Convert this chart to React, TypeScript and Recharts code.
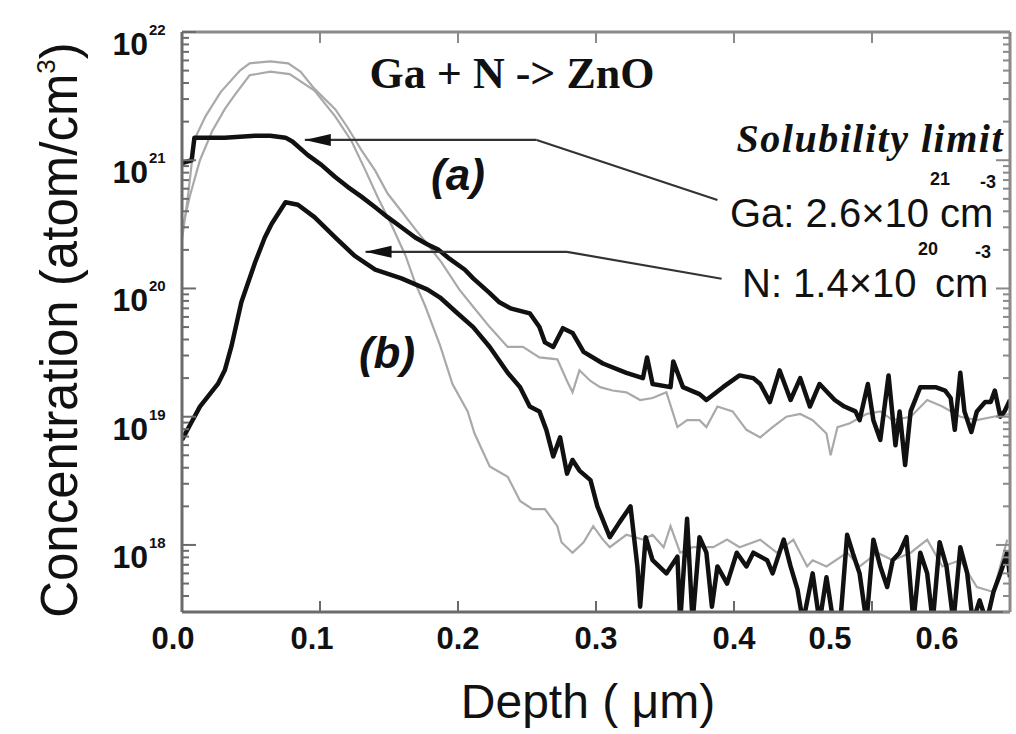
import React from "react";
import { LineChart, Line, XAxis, YAxis, ReferenceLine } from "recharts";

// SIMS depth profiles: [depth (µm), concentration (atom/cm³)]
const gaCodoped: [number, number][] = [
  [0, 9.5e20], [0.007, 1.0e21], [0.009, 1.5e21], [0.031, 1.5e21], [0.053, 1.55e21], [0.064, 1.55e21],
  [0.075, 1.5e21], [0.08, 1.4e21], [0.091, 1.1e21], [0.101, 9.2e20], [0.111, 7.4e20], [0.12, 6.2e20],
  [0.13, 5.2e20], [0.14, 4.3e20], [0.149, 3.6e20], [0.159, 3.0e20], [0.169, 2.5e20], [0.178, 2.2e20],
  [0.186, 2.0e20], [0.194, 1.7e20], [0.205, 1.4e20], [0.211, 1.2e20], [0.223, 9.2e19], [0.23, 7.8e19],
  [0.238, 7.0e19], [0.252, 6.4e19], [0.259, 5.0e19], [0.263, 3.8e19], [0.269, 3.5e19], [0.276, 4.9e19],
  [0.283, 4.5e19], [0.291, 3.2e19], [0.305, 2.6e19], [0.322, 2.2e19], [0.334, 2.0e19], [0.337, 2.9e19],
  [0.341, 1.8e19], [0.354, 1.7e19], [0.356, 2.7e19], [0.363, 1.7e19], [0.375, 1.5e19], [0.38, 1.35e19],
  [0.392, 1.7e19], [0.404, 2.1e19], [0.414, 2.0e19], [0.419, 1.8e19], [0.426, 1.3e19], [0.433, 2.3e19],
  [0.441, 1.35e19], [0.448, 2.0e19], [0.455, 1.2e19], [0.462, 1.8e19], [0.473, 1.35e19], [0.48, 1.2e19],
  [0.488, 1.1e19], [0.491, 9.4e18], [0.497, 1.8e19], [0.501, 9.4e18], [0.506, 6.6e18], [0.512, 2.1e19],
  [0.517, 6.0e18], [0.52, 1.1e19], [0.524, 4.2e18], [0.528, 1.1e19], [0.535, 1.7e19], [0.546, 1.7e19],
  [0.553, 1.6e19], [0.557, 1.4e19], [0.56, 7.9e18], [0.564, 2.2e19], [0.567, 1.1e19], [0.572, 7.6e18],
  [0.576, 1.1e19], [0.582, 1.3e19], [0.586, 1.3e19], [0.589, 1.6e19], [0.593, 1.0e19], [0.596, 1.1e19],
  [0.6, 1.35e19],
];

const nCodoped: [number, number][] = [
  [0, 6.6e18], [0.006, 8.7e18], [0.013, 1.2e19], [0.026, 1.8e19], [0.031, 2.3e19], [0.036, 3.6e19],
  [0.043, 7.8e19], [0.053, 1.6e20], [0.06, 2.5e20], [0.065, 3.2e20], [0.075, 4.7e20], [0.084, 4.5e20],
  [0.096, 3.6e20], [0.111, 2.5e20], [0.125, 1.8e20], [0.14, 1.4e20], [0.159, 1.2e20], [0.178, 9.8e19],
  [0.187, 8.5e19], [0.199, 6.5e19], [0.211, 5.0e19], [0.223, 3.5e19], [0.236, 2.2e19], [0.245, 1.7e19],
  [0.252, 1.2e19], [0.259, 1.1e19], [0.264, 7.9e18], [0.269, 4.9e18], [0.274, 6.9e18], [0.279, 3.6e18],
  [0.283, 4.6e18], [0.288, 3.8e18], [0.296, 3.2e18], [0.301, 2.0e18], [0.31, 1.15e18], [0.317, 1.5e18],
  [0.325, 2.0e18], [0.33, 6.8e17], [0.332, 3.3e17], [0.336, 1.15e18], [0.341, 7.6e17], [0.351, 6.0e17],
  [0.359, 8.1e17], [0.361, 2.5e17], [0.366, 1.6e18], [0.37, 2.5e17], [0.375, 1.15e18], [0.38, 8.7e17],
  [0.384, 3.3e17], [0.388, 6.8e17], [0.395, 5.0e17], [0.402, 8.7e17], [0.409, 6.8e17], [0.414, 8.7e17],
  [0.424, 7.6e17], [0.428, 6.0e17], [0.436, 1.1e18], [0.441, 6.8e17], [0.446, 4.5e17], [0.45, 2.5e17],
  [0.457, 6.0e17], [0.462, 2.5e17], [0.467, 5.6e17], [0.472, 2.5e17], [0.477, 2.5e17], [0.482, 1.2e18],
  [0.486, 8.7e17], [0.491, 6.0e17], [0.496, 2.5e17], [0.501, 1.1e18], [0.506, 6.8e17], [0.511, 4.7e17],
  [0.515, 7.6e17], [0.52, 8.7e17], [0.525, 1.15e18], [0.53, 2.5e17], [0.535, 8.7e17], [0.54, 6.0e17],
  [0.544, 2.5e17], [0.549, 1.05e18], [0.554, 6.8e17], [0.559, 2.5e17], [0.564, 9.6e17], [0.569, 6.0e17],
  [0.573, 2.5e17], [0.578, 3.7e17], [0.583, 2.5e17], [0.588, 4.3e17], [0.593, 6.0e17], [0.598, 8.7e17],
  [0.6, 5.6e17],
];

// single-implant reference profiles (thin grey)
const gaOnly: [number, number][] = [
  [0, 2.4e20], [0.004, 4.9e20], [0.009, 1.45e21], [0.017, 2.2e21], [0.028, 3.4e21], [0.042, 5.0e21],
  [0.049, 5.7e21], [0.064, 5.9e21], [0.077, 5.7e21], [0.086, 4.9e21], [0.096, 3.6e21], [0.111, 2.5e21],
  [0.12, 1.8e21], [0.13, 1.2e21], [0.14, 8.3e20], [0.149, 5.5e20], [0.159, 4.0e20], [0.169, 2.9e20],
  [0.178, 2.2e20], [0.188, 1.6e20], [0.201, 9.8e19], [0.211, 7.2e19], [0.223, 5.0e19], [0.236, 3.5e19],
  [0.247, 3.5e19], [0.259, 2.9e19], [0.272, 2.8e19], [0.279, 1.9e19], [0.283, 1.55e19], [0.288, 2.3e19],
  [0.296, 1.9e19], [0.303, 1.7e19], [0.312, 1.6e19], [0.322, 1.55e19], [0.332, 1.35e19], [0.341, 1.4e19],
  [0.351, 1.55e19], [0.359, 8.3e18], [0.366, 9.4e18], [0.375, 9.4e18], [0.38, 8.3e18], [0.388, 1.2e19],
  [0.399, 1.1e19], [0.409, 7.9e18], [0.419, 6.9e18], [0.428, 8.3e18], [0.438, 1.0e19], [0.448, 1.05e19],
  [0.457, 9.4e18], [0.467, 7.4e18], [0.47, 5.0e18], [0.475, 8.3e18], [0.484, 8.9e18], [0.496, 1.05e19],
  [0.506, 1.1e19], [0.515, 9.4e18], [0.528, 1.0e19], [0.54, 1.35e19], [0.551, 1.2e19], [0.564, 1.0e19],
  [0.576, 9.4e18], [0.588, 1.0e19], [0.6, 1.05e19],
];

const nOnly: [number, number][] = [
  [0, 2.9e20], [0.006, 5.4e20], [0.013, 1.0e21], [0.022, 1.7e21], [0.031, 2.5e21], [0.038, 3.2e21],
  [0.049, 4.6e21], [0.064, 4.9e21], [0.078, 4.7e21], [0.096, 3.5e21], [0.111, 2.2e21], [0.123, 1.4e21],
  [0.133, 8.3e20], [0.142, 5.1e20], [0.152, 3.1e20], [0.162, 1.8e20], [0.169, 1.1e20], [0.176, 7.4e19],
  [0.187, 3.6e19], [0.196, 1.8e19], [0.207, 1.1e19], [0.212, 7.4e18], [0.223, 4.1e18], [0.236, 3.4e18],
  [0.245, 2.2e18], [0.254, 1.9e18], [0.263, 1.9e18], [0.272, 1.4e18], [0.275, 1.05e18], [0.283, 8.7e17],
  [0.291, 1.05e18], [0.298, 1.4e18], [0.305, 1.1e18], [0.31, 9.6e17], [0.322, 1.2e18], [0.334, 1.1e18],
  [0.341, 1.2e18], [0.349, 9.6e17], [0.354, 1.4e18], [0.361, 8.7e17], [0.37, 9.6e17], [0.385, 9.6e17],
  [0.395, 1.1e18], [0.404, 9.6e17], [0.419, 1.1e18], [0.431, 8.7e17], [0.443, 1.1e18], [0.453, 6.8e17],
  [0.457, 7.6e17], [0.467, 6.8e17], [0.482, 8.7e17], [0.491, 6.8e17], [0.504, 8.7e17], [0.515, 7.6e17],
  [0.528, 8.7e17], [0.54, 1.1e18], [0.551, 6.8e17], [0.564, 7.6e17], [0.576, 4.7e17], [0.588, 4.3e17],
  [0.598, 1.1e18],
];

const depthTicks = [0, 0.1, 0.2, 0.3, 0.4, 0.5, 0.6];
const decades = [17, 18, 19, 20, 21, 22];
const concDomain: [number, number] = [3e17, 1e22];

// solubility-limit pointers: [depth, concentration] corners of each leader line
const gaPointer: [number, number][] = [[0.089, 1.44e21], [0.257, 1.44e21], [0.388, 4.9e20]];
const nPointer: [number, number][] = [[0.133, 1.93e20], [0.279, 1.93e20], [0.391, 1.19e20]];

const W = 1016;
const H = 734;
const SANS = '"Liberation Sans", Arial, Helvetica, sans-serif';
const SERIF = '"Liberation Serif", "Times New Roman", serif';
const AXIS = "#6b6b6b";
const FRAME = "#8a8a8a";
const INK = "#111";

const toPoints = (rows: [number, number][]) => rows.map(([depth, conc]) => ({ depth, conc }));

// major decade plus 2..9 minor ticks, kept inside the domain
const concTicks: number[] = [];
decades.forEach((d) => {
  for (let m = 1; m <= 9; m++) {
    const v = m * Math.pow(10, d);
    if (v >= concDomain[0] * 0.999 && v <= concDomain[1] * 1.001) concTicks.push(v);
  }
});

const isDecade = (v: number) => {
  const e = Math.round(Math.log10(v));
  return Math.abs(v / Math.pow(10, e) - 1) < 1e-6;
};

// printed labels for 0.5 and 0.6 sit left of their tick marks
const depthLabelShift: Record<string, number> = { "0.0": -9, "0.1": -8, "0.5": -42, "0.6": -73 };

function DepthTick(props: any) {
  const { x, y, payload } = props;
  const v = payload.value as number;
  const label = v.toFixed(1);
  const inner = v > 0.001 && v < 0.599;
  return (
    <g>
      {inner && <line x1={x} x2={x} y1={y} y2={y - 11} stroke={AXIS} strokeWidth={2} />}
      <text
        x={x + (depthLabelShift[label] ?? 0)}
        y={y + 37}
        textAnchor="middle"
        fontFamily={SANS}
        fontWeight="bold"
        fontSize={31}
        fill={INK}
      >
        {label}
      </text>
    </g>
  );
}

function TopTick(props: any) {
  const { x, y, payload } = props;
  const v = payload.value as number;
  if (v < 0.001 || v > 0.599) return <g />;
  return <line x1={x} x2={x} y1={y} y2={y + 11} stroke={FRAME} strokeWidth={2} />;
}

function ConcTick(props: any) {
  const { x, y, payload, side } = props;
  const v = payload.value as number;
  const major = isDecade(v);
  const dir = side === "left" ? 1 : -1;
  const len = major ? 14 : 7;
  const exp = Math.round(Math.log10(v));
  return (
    <g>
      <line x1={x} x2={x + dir * len} y1={y} y2={y} stroke={side === "left" ? AXIS : FRAME} strokeWidth={2} />
      {major && side === "left" && (
        <text x={x - 34} y={y + 23} fontFamily={SANS} fontWeight="bold" fill={INK}>
          <tspan textAnchor="end" fontSize={32}>10</tspan>
          <tspan x={x - 33} dy={-20} fontSize={15}>{exp}</tspan>
        </text>
      )}
    </g>
  );
}

function ArrowLine(props: any) {
  const { x1, y1, x2, y2, stroke, strokeWidth } = props;
  const tipX = Math.min(x1, x2);
  const tipY = x1 <= x2 ? y1 : y2;
  return (
    <g>
      <line x1={x1} y1={y1} x2={x2} y2={y2} stroke={stroke} strokeWidth={strokeWidth} />
      <polygon points={`${tipX},${tipY} ${tipX + 26},${tipY - 6} ${tipX + 26},${tipY + 6}`} fill={INK} />
    </g>
  );
}

// "value×10^exp cm^-3" with the exponents set above the gap, as printed
function LimitLabel({ x, y, head, exp, expX, unitX, negX }: {
  x: number; y: number; head: string; exp: string; expX: number; unitX: number; negX: number;
}) {
  return (
    <text x={x} y={y} fontFamily={SANS} fontSize={40} fill={INK}>
      {head}
      <tspan x={expX} dy={-42} fontSize={18} fontWeight="bold">{exp}</tspan>
      <tspan x={unitX} dy={42}>cm</tspan>
      <tspan x={negX} dy={-39} fontSize={18} fontWeight="bold">-3</tspan>
    </text>
  );
}

export default function App() {
  const pointerLines = (corners: [number, number][], key: string) => [
    <ReferenceLine
      key={`${key}-h`}
      xAxisId="bottom"
      yAxisId="left"
      segment={[
        { x: corners[0][0], y: corners[0][1] },
        { x: corners[1][0], y: corners[1][1] },
      ]}
      stroke="#333"
      strokeWidth={2.2}
      shape={ArrowLine}
    />,
    <ReferenceLine
      key={`${key}-d`}
      xAxisId="bottom"
      yAxisId="left"
      segment={[
        { x: corners[1][0], y: corners[1][1] },
        { x: corners[2][0], y: corners[2][1] },
      ]}
      stroke="#333"
      strokeWidth={2.2}
    />,
  ];

  return (
    <div style={{ position: "absolute", left: 0, top: 0, width: W, height: H, background: "#fff" }}>
      <LineChart width={W} height={H} margin={{ top: 0, right: 0, bottom: 0, left: 0 }}>
        <XAxis
          xAxisId="bottom"
          type="number"
          dataKey="depth"
          domain={[0, 0.6]}
          ticks={depthTicks}
          interval={0}
          allowDataOverflow
          orientation="bottom"
          height={122}
          tickSize={0}
          tickMargin={0}
          tickLine={false}
          axisLine={{ stroke: AXIS, strokeWidth: 3 }}
          tick={(p: any) => <DepthTick {...p} />}
        />
        <XAxis
          xAxisId="top"
          type="number"
          dataKey="depth"
          domain={[0, 0.6]}
          ticks={depthTicks}
          interval={0}
          allowDataOverflow
          orientation="top"
          height={32}
          tickSize={0}
          tickMargin={0}
          tickLine={false}
          axisLine={{ stroke: FRAME, strokeWidth: 3 }}
          tick={(p: any) => <TopTick {...p} />}
        />
        <YAxis
          yAxisId="left"
          type="number"
          scale="log"
          domain={concDomain}
          ticks={concTicks}
          interval={0}
          allowDataOverflow
          width={182}
          tickSize={0}
          tickMargin={0}
          tickLine={false}
          axisLine={{ stroke: AXIS, strokeWidth: 3 }}
          tick={(p: any) => <ConcTick {...p} side="left" />}
        />
        <YAxis
          yAxisId="right"
          orientation="right"
          type="number"
          scale="log"
          domain={concDomain}
          ticks={concTicks}
          interval={0}
          allowDataOverflow
          width={6}
          tickSize={0}
          tickMargin={0}
          tickLine={false}
          axisLine={{ stroke: FRAME, strokeWidth: 3 }}
          tick={(p: any) => <ConcTick {...p} side="right" />}
        />

        <Line
          xAxisId="bottom"
          yAxisId="left"
          data={toPoints(gaOnly)}
          dataKey="conc"
          type="linear"
          stroke="#a9a9a9"
          strokeWidth={2.2}
          dot={false}
          isAnimationActive={false}
        />
        <Line
          xAxisId="bottom"
          yAxisId="left"
          data={toPoints(nOnly)}
          dataKey="conc"
          type="linear"
          stroke="#a9a9a9"
          strokeWidth={2.2}
          dot={false}
          isAnimationActive={false}
        />
        <Line
          xAxisId="bottom"
          yAxisId="left"
          data={toPoints(gaCodoped)}
          dataKey="conc"
          type="linear"
          stroke={INK}
          strokeWidth={4.5}
          strokeLinejoin="round"
          dot={false}
          isAnimationActive={false}
        />
        <Line
          xAxisId="bottom"
          yAxisId="left"
          data={toPoints(nCodoped)}
          dataKey="conc"
          type="linear"
          stroke={INK}
          strokeWidth={4.5}
          strokeLinejoin="round"
          dot={false}
          isAnimationActive={false}
        />

        {pointerLines(gaPointer, "ga")}
        {pointerLines(nPointer, "n")}
      </LineChart>

      <svg
        width={W}
        height={H}
        style={{ position: "absolute", left: 0, top: 0, pointerEvents: "none" }}
      >
        <text
          x={77}
          y={330}
          transform="rotate(-90 77 330)"
          textAnchor="middle"
          fontFamily={SANS}
          fontSize={51}
          fill={INK}
        >
          Concentration (atom/cm
          <tspan dy={-22} fontSize={26}>3</tspan>
          <tspan dy={22}>)</tspan>
        </text>
        <text x={588} y={718} textAnchor="middle" fontFamily={SANS} fontSize={48} fill={INK}>
          Depth ( μm)
        </text>

        <text x={512} y={88} textAnchor="middle" fontFamily={SERIF} fontWeight="bold" fontSize={44} fill={INK}>
          Ga + N -&gt; ZnO
        </text>
        <text
          x={1004}
          y={152}
          textAnchor="end"
          fontFamily={SERIF}
          fontWeight="bold"
          fontStyle="italic"
          fontSize={40}
          letterSpacing={1.5}
          fill={INK}
        >
          Solubility limit
        </text>
        <text x={458} y={190} textAnchor="middle" fontFamily={SANS} fontWeight="bold" fontStyle="italic" fontSize={44} fill={INK}>
          (a)
        </text>
        <text x={387} y={368} textAnchor="middle" fontFamily={SANS} fontWeight="bold" fontStyle="italic" fontSize={44} fill={INK}>
          (b)
        </text>

        <LimitLabel x={730} y={227} head="Ga: 2.6×10" exp="21" expX={930} unitX={940} negX={980} />
        <LimitLabel x={742} y={297} head="N: 1.4×10" exp="20" expX={918} unitX={935} negX={975} />
      </svg>
    </div>
  );
}
